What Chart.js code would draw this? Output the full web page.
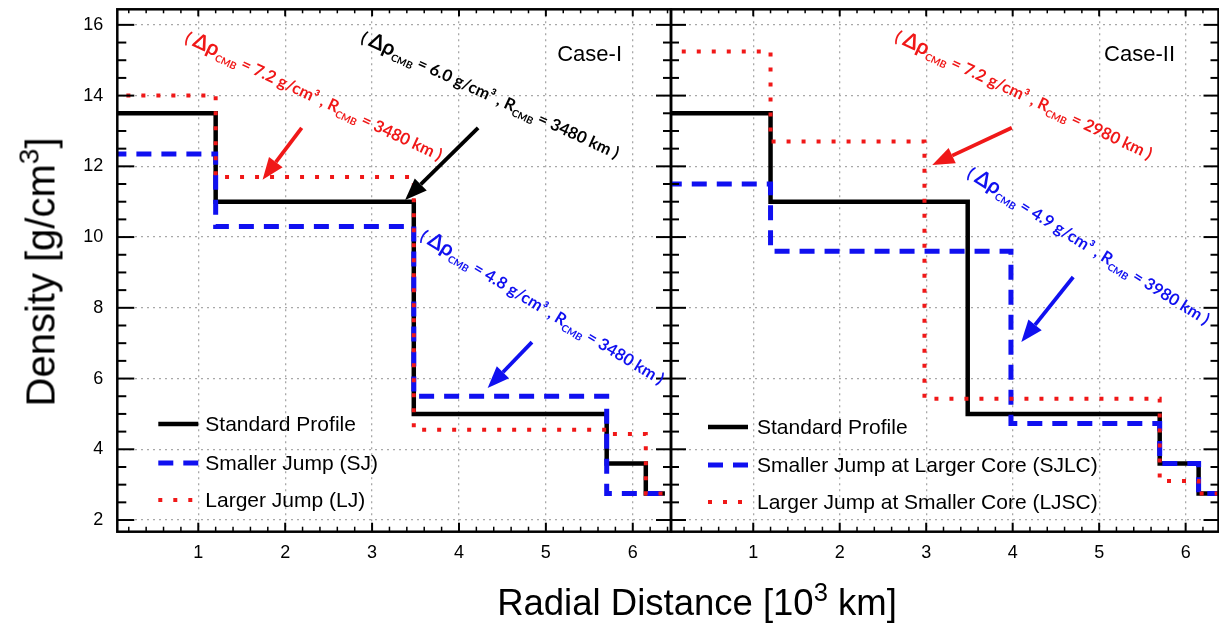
<!DOCTYPE html>
<html>
<head>
<meta charset="utf-8">
<script src="https://cdn.jsdelivr.net/npm/chart.js@4/dist/chart.umd.min.js"></script>
<style>
  body { margin: 0; background: #fff; overflow: hidden; width: 1219px; height: 623px; position: relative;
         font-family: "Liberation Sans", Arial, sans-serif; }
  #left { position: absolute; left: 0; top: 0; }
  #right { position: absolute; left: 600px; top: 0; }
  #xtitle { position: absolute; left: 697px; top: 603px; transform: translate(-50%, -50%);
            font-size: 36.5px; white-space: nowrap; }
  #ytitle { position: absolute; left: 41px; top: 272px; transform: translate(-50%, -50%) rotate(-90deg);
            font-size: 40px; white-space: nowrap; }
  sup { font-size: 0.7em; line-height: 0; position: relative; top: -0.05em; }
</style>
</head>
<body>
<canvas id="left" width="680" height="623"></canvas>
<canvas id="right" width="640" height="623"></canvas>
<div id="ytitle">Density [g/cm<sup>3</sup>]</div>
<div id="xtitle">Radial Distance [10<sup>3</sup> km]</div>
<script>
// layer boundaries (10^3 km) and layer densities (g/cm^3)
const stdRadius = [0, 1.2, 3.48, 5.7, 6.15, 6.37];
const stdDensity = [13.5, 11.0, 5.0, 3.6, 2.75];

// Case-I
const sjRadius = [0, 1.2, 3.48, 5.7, 6.37];
const sjDensity = [12.35, 10.3, 5.5, 2.75];
const ljRadius = [0, 1.2, 3.48, 5.7, 6.15, 6.37];
const ljDensity = [14.0, 11.7, 4.55, 4.43, 2.75];

// Case-II
const sjlcRadius = [0, 1.2, 3.98, 5.7, 6.15, 6.37];
const sjlcDensity = [11.5, 9.6, 4.73, 3.6, 2.75];
const ljscRadius = [0, 1.2, 2.98, 5.7, 6.15, 6.37];
const ljscDensity = [15.25, 12.7, 5.43, 3.1, 2.75];

const xTicks = [1, 2, 3, 4, 5, 6];
const yTicks = [2, 4, 6, 8, 10, 12, 14, 16];

const FONT = '"Liberation Sans", Arial, sans-serif';
const NOTE_FONT = 'Lato, "Open Sans", sans-serif';

function stepPoints(radius, density) {
  const pts = density.map((d, i) => ({ x: radius[i], y: d }));
  pts.push({ x: radius[radius.length - 1], y: density[density.length - 1] });
  return pts;
}

const solid = { borderColor: '#000000', borderWidth: 4.5, borderDash: [], order: 3 };
const dashed = { borderColor: '#1010f0', borderWidth: 5, borderDash: [15, 10], order: 2 };
const dotted = { borderColor: '#f01818', borderWidth: 4, borderDash: [4, 11], order: 1 };

function series(label, radius, density, style) {
  return Object.assign({ label, data: stepPoints(radius, density), stepped: 'before',
    pointRadius: 0, fill: false, tension: 0 }, style);
}

function drawNote(ctx, cx, cy, angle, color, parts) {
  const fonts = {
    m: 'bold 16.5px ' + NOTE_FONT,
    big: 'bold 21px ' + NOTE_FONT,
    sub: 'bold 10px ' + NOTE_FONT
  };
  let total = 0;
  parts.forEach(p => { ctx.font = fonts[p[1]]; total += ctx.measureText(p[0]).width; });
  ctx.save();
  ctx.translate(cx, cy);
  ctx.rotate(angle * Math.PI / 180);
  ctx.fillStyle = color;
  ctx.textBaseline = 'alphabetic';
  let px = -total / 2;
  parts.forEach(p => {
    ctx.font = fonts[p[1]];
    ctx.fillText(p[0], px, p[1] === 'sub' ? 10 : 6);
    px += ctx.measureText(p[0]).width;
  });
  ctx.restore();
}

function noteParts(drho, rcmb) {
  return [['( ', 'm'], ['Δρ', 'big'], ['CMB', 'sub'], [' = ' + drho + ' g/cm³ , R', 'm'],
          ['CMB', 'sub'], [' = ' + rcmb + ' km )', 'm']];
}

function drawArrow(ctx, x1, y1, x2, y2, color) {
  const ang = Math.atan2(y2 - y1, x2 - x1);
  const hl = 22, hw = 8.5;
  const bx = x2 - hl * Math.cos(ang), by = y2 - hl * Math.sin(ang);
  ctx.save();
  ctx.strokeStyle = color;
  ctx.fillStyle = color;
  ctx.lineWidth = 3.8;
  ctx.beginPath();
  ctx.moveTo(x1, y1);
  ctx.lineTo(bx, by);
  ctx.stroke();
  ctx.beginPath();
  ctx.moveTo(x2, y2);
  ctx.lineTo(bx + hw * Math.sin(ang), by - hw * Math.cos(ang));
  ctx.lineTo(bx - hw * Math.sin(ang), by + hw * Math.cos(ang));
  ctx.closePath();
  ctx.fill();
  ctx.restore();
}

const panelPlugin = {
  id: 'panel',
  afterDraw(chart, args, o) {
    const { ctx, chartArea: a } = chart;
    const xs = chart.scales.x, ys = chart.scales.y;
    ctx.save();
    ctx.strokeStyle = '#000';
    const line = (x1, y1, x2, y2, w) => {
      ctx.lineWidth = w;
      ctx.beginPath(); ctx.moveTo(x1, y1); ctx.lineTo(x2, y2); ctx.stroke();
    };
    // x ticks every 0.2, major at integers
    for (let k = Math.ceil(xs.min * 5); k <= Math.floor(xs.max * 5); k++) {
      const px = xs.getPixelForValue(k / 5);
      const major = k % 5 === 0;
      line(px, a.bottom, px, a.bottom - (major ? 9 : 5), major ? 2 : 1.5);
      line(px, a.top, px, a.top + (major ? 7 : 4), major ? 2 : 1.5);
    }
    // y ticks every 0.5, major at even numbers
    for (let k = Math.ceil(ys.min * 2); k <= Math.floor(ys.max * 2); k++) {
      const py = ys.getPixelForValue(k / 2);
      const major = k % 4 === 0;
      line(a.left, py, a.left + (major ? o.leftTick[0] : o.leftTick[1]), py, 2);
      line(a.right, py, a.right - (major ? 15 : 8), py, 2);
    }
    ctx.lineWidth = 2.5;
    ctx.strokeRect(a.left, a.top, a.right - a.left, a.bottom - a.top);
    ctx.restore();

    // case label
    ctx.save();
    ctx.font = '22px ' + FONT;
    ctx.fillStyle = '#000';
    ctx.textAlign = 'right';
    ctx.textBaseline = 'middle';
    ctx.fillText(o.label, a.right - o.labelInset, 55);
    ctx.restore();

    // annotations
    o.notes.forEach(n => drawNote(ctx, xs.getPixelForValue(n.x), ys.getPixelForValue(n.y),
      n.angle, n.color, noteParts(n.drho, n.rcmb)));
    o.arrows.forEach(r => drawArrow(ctx, xs.getPixelForValue(r.from[0]), ys.getPixelForValue(r.from[1]),
      xs.getPixelForValue(r.to[0]), ys.getPixelForValue(r.to[1]), r.color));

    // legend
    ctx.save();
    ctx.font = '21px ' + FONT;
    ctx.textBaseline = 'middle';
    ctx.fillStyle = '#000';
    o.legendRows.forEach((ry, i) => {
      const ds = chart.data.datasets[i];
      ctx.strokeStyle = ds.borderColor;
      ctx.lineWidth = ds.borderWidth;
      ctx.setLineDash(ds.borderDash);
      ctx.beginPath();
      ctx.moveTo(a.left + o.legendX[0], ry);
      ctx.lineTo(a.left + o.legendX[1], ry);
      ctx.stroke();
      ctx.setLineDash([]);
      ctx.fillText(ds.label, a.left + o.legendX[2], ry + 1);
    });
    ctx.restore();
  }
};

function makeChart(id, cfg) {
  return new Chart(document.getElementById(id), {
    type: 'line',
    data: { datasets: cfg.datasets },
    options: {
      responsive: false,
      animation: false,
      layout: { padding: { left: cfg.padLeft, right: cfg.padRight, top: 9.3, bottom: 0 } },
      plugins: { legend: { display: false }, tooltip: { enabled: false }, panel: cfg.panel },
      scales: {
        x: {
          type: 'linear', min: cfg.xMin, max: cfg.xMax,
          afterBuildTicks: s => { s.ticks = xTicks.map(v => ({ value: v })); },
          afterFit: s => { s.height = 91.3; s.paddingLeft = 0; s.paddingRight = 0; },
          ticks: { color: '#000', font: { family: FONT, size: 18 }, padding: 11, maxRotation: 0 },
          grid: { color: '#a8a8a8', lineWidth: 1.3, drawTicks: false },
          border: { display: false, dash: [2, 4] }
        },
        y: {
          type: 'linear', min: 1.67, max: 16.44,
          afterBuildTicks: s => { s.ticks = yTicks.map(v => ({ value: v })); },
          afterFit: s => { s.width = cfg.yWidth; s.paddingTop = 0; s.paddingBottom = 0; },
          ticks: { display: cfg.showY, color: '#000', font: { family: FONT, size: 18 }, padding: 14 },
          grid: { color: '#a8a8a8', lineWidth: 1.3, drawTicks: false },
          border: { display: false, dash: [2, 4] }
        }
      }
    },
    plugins: [panelPlugin]
  });
}

makeChart('left', {
  xMin: 0.068, xMax: 6.44, padLeft: 0, padRight: 9, yWidth: 117.3, showY: true,
  datasets: [
    series('Standard Profile', stdRadius, stdDensity, solid),
    series('Smaller Jump (SJ)', sjRadius, sjDensity, dashed),
    series('Larger Jump (LJ)', ljRadius, ljDensity, dotted)
  ],
  panel: {
    label: 'Case-I', labelInset: 49, leftTick: [17, 9],
    legendX: [41, 81, 88], legendRows: [424, 463, 500],
    notes: [
      { x: 2.33, y: 13.99, angle: 25, color: '#f01818', drho: '7.2', rcmb: '3480' },
      { x: 4.36, y: 14.02, angle: 24.6, color: '#000', drho: '6.0', rcmb: '3480' },
      { x: 4.96, y: 8.02, angle: 31.2, color: '#1010f0', drho: '4.8', rcmb: '3480' }
    ],
    arrows: [
      { from: [2.19, 13.09], to: [1.74, 11.62], color: '#f01818' },
      { from: [4.22, 13.09], to: [3.38, 11.05], color: '#000' },
      { from: [4.84, 7.03], to: [4.33, 5.73], color: '#1010f0' }
    ]
  }
});

makeChart('right', {
  xMin: 0.049, xMax: 6.38, padLeft: 0, padRight: 21.5, yWidth: 71, showY: false,
  datasets: [
    series('Standard Profile', stdRadius, stdDensity, solid),
    series('Smaller Jump at Larger Core (SJLC)', sjlcRadius, sjlcDensity, dashed),
    series('Larger Jump at Smaller Core (LJSC)', ljscRadius, ljscDensity, dotted)
  ],
  panel: {
    label: 'Case-II', labelInset: 43.5, leftTick: [15, 8],
    legendX: [37, 77, 86], legendRows: [427, 465, 502],
    notes: [
      { x: 4.13, y: 14.02, angle: 25, color: '#f01818', drho: '7.2', rcmb: '2980' },
      { x: 4.88, y: 9.75, angle: 31.9, color: '#1010f0', drho: '4.9', rcmb: '3980' }
    ],
    arrows: [
      { from: [3.99, 13.09], to: [3.07, 12.04], color: '#f01818' },
      { from: [4.70, 8.87], to: [4.10, 7.03], color: '#1010f0' }
    ]
  }
});
</script>
</body>
</html>
